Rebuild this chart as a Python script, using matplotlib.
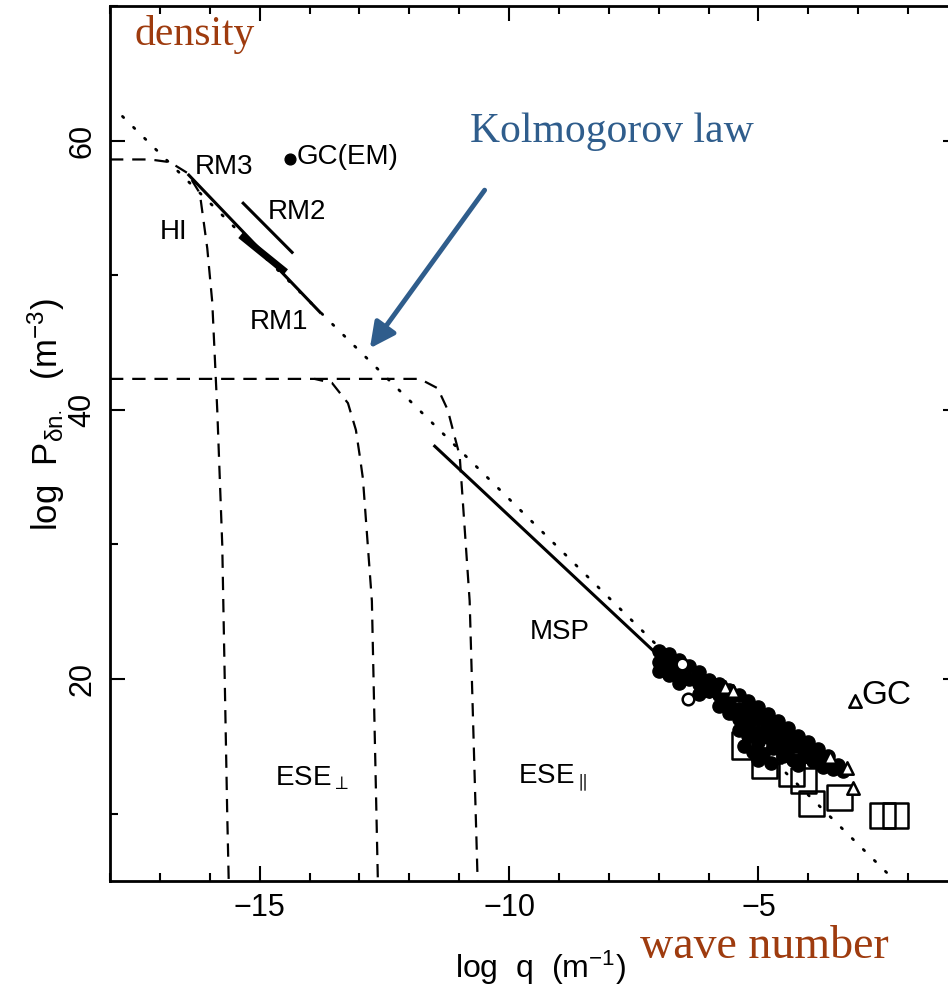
import matplotlib
matplotlib.use("Agg")
import matplotlib.pyplot as plt
from matplotlib.ticker import MultipleLocator

plt.rcParams["font.family"] = ["Liberation Sans", "DejaVu Sans"]
plt.rcParams["mathtext.fontset"] = "custom"
plt.rcParams["mathtext.rm"] = "Liberation Sans"
plt.rcParams["mathtext.it"] = "Liberation Sans"
plt.rcParams["mathtext.bf"] = "Liberation Sans:bold"

# Kolmogorov reference line (dotted)
kolmo_x = [-17.75, -2.3]
kolmo_y = [61.8, 5.15]

# dashed model spectra
hi_x = [-18.0, -17.2, -16.8, -16.45, -16.2, -16.05, -15.95, -15.85, -15.75, -15.7, -15.65, -15.62]
hi_y = [58.6, 58.6, 58.4, 57.6, 56.1, 52.0, 48.0, 40.0, 30.0, 20.0, 10.0, 5.0]
ese_perp_x = [-18.0, -13.9, -13.55, -13.23, -13.07, -12.99, -12.93, -12.75, -12.63]
ese_perp_y = [42.3, 42.3, 42.0, 40.5, 38.5, 36.5, 34.9, 25.8, 5.0]
ese_par_x = [-13.9, -11.79, -11.43, -11.23, -11.09, -10.99, -10.79, -10.63]
ese_par_y = [42.3, 42.3, 41.6, 40.0, 38.0, 36.6, 25.8, 5.0]

# solid segments
rm1_x, rm1_y = [-16.42, -13.79], [57.44, 47.25]
rm2_x, rm2_y = [-15.33, -14.35], [55.35, 51.7]
rmb_x, rmb_y = [-15.33, -14.53], [52.8, 50.4]
msp_x, msp_y = [-11.49, -7.05], [37.3, 21.9]

# pulsar scattering points
circ_x = [-7.0, -7.0, -7.0, -6.8, -6.8, -6.8, -6.6, -6.6, -6.6, -6.4, -6.4,
          -6.2, -6.2, -6.2, -6.0, -6.0, -5.8, -5.8, -5.8, -5.6, -5.6, -5.6,
          -5.4, -5.4, -5.4, -5.4, -5.2, -5.2, -5.2, -5.2, -5.0, -5.0, -5.0, -5.0,
          -4.8, -4.8, -4.8, -4.6, -4.6, -4.6, -4.4, -4.4, -4.4, -4.2, -4.2,
          -4.0, -4.0, -3.8, -3.8, -3.6, -3.6, -3.4,
          -5.3, -5.1, -4.9, -4.7, -4.5, -4.3, -4.1, -3.9, -3.7, -3.5, -3.3,
          -5.0, -4.75, -4.2, -3.95]
circ_y = [22.1, 21.3, 20.6, 21.9, 21.0, 20.3, 21.4, 20.5, 19.7, 21.0, 20.0,
          20.5, 19.6, 18.9, 19.9, 19.1, 19.6, 18.8, 18.0, 19.2, 18.3, 17.5,
          18.8, 17.8, 17.0, 16.2, 18.4, 17.5, 16.6, 15.8, 17.9, 17.0, 16.1, 15.3,
          17.4, 16.6, 15.7, 16.9, 16.1, 15.2, 16.4, 15.6, 14.8, 15.8, 15.0,
          15.3, 14.6, 14.8, 14.1, 14.3, 13.7, 13.6,
          15.0, 14.6, 14.4, 14.9, 14.3, 14.0, 14.2, 13.9, 13.5, 13.3, 13.2,
          14.0, 13.8, 13.6, 14.8]
open_circ_x = [-6.54, -6.42]
open_circ_y = [21.15, 18.55]
tri_x = [-5.68, -5.52, -3.57, -3.23, -3.11]
tri_y = [19.4, 19.15, 14.2, 13.4, 11.9]
sq_x = [-5.27, -4.87, -4.33, -4.09, -3.93, -3.37, -2.51, -2.25, -4.97, -4.67, -4.37, -5.07, -4.57]
sq_y = [15.05, 13.57, 12.97, 12.45, 10.74, 11.19, 9.85, 9.85, 15.43, 14.31, 15.05, 16.2, 15.8]
sq_size = [27, 25, 25, 25, 25, 25, 25, 25, 15, 15, 12, 18, 14]

gcem_x, gcem_y = -14.39, 58.62
gc_x, gc_y = -3.07, 18.4

fig = plt.figure(figsize=(9.48, 9.9), dpi=100)
ax = fig.add_axes([110 / 948, 1 - 881 / 990, 848 / 948, 875 / 990])

ax.plot(kolmo_x, kolmo_y, color="black", lw=2.0, linestyle=(0, (0.6, 5)), dash_capstyle="round")
dash = (0, (6, 4))
ax.plot(hi_x, hi_y, color="black", lw=1.6, linestyle=dash)
ax.plot(ese_perp_x, ese_perp_y, color="black", lw=1.6, linestyle=dash)
ax.plot(ese_par_x, ese_par_y, color="black", lw=1.6, linestyle=dash)

ax.plot(rm1_x, rm1_y, color="black", lw=2.2)
ax.plot(rm2_x, rm2_y, color="black", lw=2.2)
ax.plot(rmb_x, rmb_y, color="black", lw=5)
ax.plot(msp_x, msp_y, color="black", lw=2.2)

ax.scatter(circ_x, circ_y, s=90, marker="o", color="black", zorder=3)
ax.scatter(sq_x, sq_y, s=[(v * 0.72) ** 2 for v in sq_size], marker="s",
           facecolors="none", edgecolors="black", linewidths=1.8, zorder=4)
ax.scatter(open_circ_x, open_circ_y, s=70, marker="o", facecolors="white",
           edgecolors="black", linewidths=1.8, zorder=5)
ax.scatter(tri_x, tri_y, s=80, marker="^", facecolors="white",
           edgecolors="black", linewidths=1.8, zorder=5)
ax.scatter([gc_x], [gc_y], s=80, marker="^", facecolors="white",
           edgecolors="black", linewidths=1.8, zorder=5)
ax.scatter([gcem_x], [gcem_y], s=60, marker="o", color="black", zorder=5)

fs = 20
ax.text(-16.3, 58.03, "RM3", fontsize=fs, va="center")
ax.text(-14.25, 58.77, "GC(EM)", fontsize=fs, va="center")
ax.text(-14.83, 54.68, "RM2", fontsize=fs, va="center")
ax.text(-17.0, 53.2, "HI", fontsize=fs, va="center")
ax.text(-15.19, 46.5, "RM1", fontsize=fs, va="center")
ax.text(-9.58, 23.46, "MSP", fontsize=fs, va="center")
ax.text(-14.69, 12.6, r"ESE$_{\perp}$", fontsize=fs, va="center")
ax.text(-9.82, 12.6, r"ESE$_{\parallel}$", fontsize=fs, va="center")
ax.text(-2.93, 18.77, "GC", fontsize=24, va="center")

ax.set_xlim(-18, -1)
ax.set_ylim(5, 70)
ax.xaxis.set_major_locator(MultipleLocator(5))
ax.xaxis.set_minor_locator(MultipleLocator(1))
ax.yaxis.set_major_locator(MultipleLocator(20))
ax.yaxis.set_minor_locator(MultipleLocator(10))
ax.tick_params(which="both", direction="in", top=True, right=True, width=1.5)
ax.tick_params(which="major", length=11, labelsize=22, pad=9)
ax.tick_params(which="minor", length=6)
for lbl in ax.get_yticklabels():
    lbl.set_rotation(90)
    lbl.set_va("center")
for sp in ax.spines.values():
    sp.set_linewidth(2)

fig.text(540 / 948, 1 - 968 / 990, r"log  q  (m$^{-1}$)", fontsize=23, ha="center", va="center")
fig.text(45 / 948, 1 - 415 / 990, r"log  P$_{\delta n_{\bullet}}$   (m$^{-3}$)", fontsize=25,
         rotation=90, ha="center", va="center")

# slide annotations
brown = "#9E3B0E"
blue = "#2F5D8C"
fig.text(135 / 948, 1 - 45 / 990, "density", fontsize=30, color=brown,
         family="Liberation Serif", va="baseline")
fig.text(640 / 948, 1 - 958 / 990, "wave number", fontsize=33, color=brown,
         family="Liberation Serif", va="baseline")
fig.text(470 / 948, 1 - 142 / 990, "Kolmogorov law", fontsize=30, color=blue,
         family="Liberation Serif", va="baseline")
ax.annotate("", xy=(-12.79, 44.57), xytext=(-10.49, 56.32),
            arrowprops=dict(arrowstyle="-|>", lw=3.5, color=blue, mutation_scale=38,
                            shrinkA=0, shrinkB=0))

fig.savefig("out.png", dpi=100)
